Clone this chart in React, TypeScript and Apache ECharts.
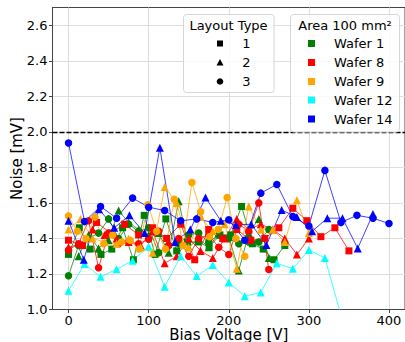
import React, { useEffect, useRef } from "react";
import * as echarts from "echarts";

// ---- data ----
const xTicks = [0, 100, 200, 300, 400];
const yTicks = [1.0, 1.2, 1.4, 1.6, 1.8, 2.0, 2.2, 2.4, 2.6];
const thresholdNoise = 2.0;

const layoutTypes = ["1", "2", "3"];
const wafers = ["Wafer 1", "Wafer 8", "Wafer 9", "Wafer 12", "Wafer 14"];
const waferColors = ["#008000", "#ff0000", "#ffa500", "#00ffff", "#0000ff"];

// Wafer 1
const w1L1x = [0, 13.5, 27, 40.5, 54, 67.5, 81, 94.5, 108, 121.5, 135, 148.5, 162, 175.5, 189, 202.5, 216, 229.5, 243, 256.5, 270];
const w1L1y = [1.31, 1.46, 1.34, 1.31, 1.34, 1.46, 1.28, 1.53, 1.31, 1.51, 1.33, 1.38, 1.38, 1.35, 1.42, 1.42, 1.58, 1.37, 1.34, 1.28, 1.36];
const w1L2x = [12.5, 25, 37.5, 50, 62.5, 75, 87.5, 100, 112.5, 125, 137.5, 150, 162.5, 175, 187.5, 200, 212.5, 225, 237.5, 250];
const w1L2y = [1.30, 1.42, 1.345, 1.39, 1.557, 1.49, 1.45, 1.42, 1.43, 1.32, 1.61, 1.35, 1.40, 1.35, 1.43, 1.41, 1.22, 1.43, 1.51, 1.29];
const w1L3x = [0, 12.5, 25, 37.5, 50, 62.5, 75, 87.5, 100, 112.5, 125, 137.5, 150, 162.5, 175, 187.5, 200, 212.5, 225, 237.5, 250];
const w1L3y = [1.19, 1.36, 1.40, 1.43, 1.51, 1.40, 1.48, 1.44, 1.46, 1.32, 1.36, 1.37, 1.42, 1.43, 1.38, 1.42, 1.40, 1.37, 1.38, 1.38, 1.45];

// Wafer 8
const w8L1x = [0, 17.5, 35, 52.5, 70, 87.5, 105, 122.5, 140, 157.5, 175, 192.5, 210, 227.5, 245, 262.5, 280, 297.5, 315, 332.5, 350];
const w8L1y = [1.39, 1.36, 1.49, 1.43, 1.48, 1.42, 1.46, 1.40, 1.48, 1.28, 1.45, 1.40, 1.45, 1.39, 1.40, 1.46, 1.57, 1.50, 1.41, 1.46, 1.33];
const w8L2x = [0, 15, 30, 45, 60, 75, 90, 105, 120, 135, 150, 165, 180, 195, 210, 225, 240, 255, 270, 285, 300];
const w8L2y = [1.35, 1.37, 1.45, 1.42, 1.40, 1.38, 1.36, 1.44, 1.26, 1.30, 1.40, 1.33, 1.29, 1.40, 1.51, 1.45, 1.48, 1.45, 1.40, 1.31, 1.40];
const w8L3x = [0, 12.5, 25, 37.5, 50, 62.5, 75, 87.5, 100, 112.5, 125, 137.5, 150, 162.5, 175, 187.5, 200, 212.5, 225, 237.5, 250];
const w8L3y = [1.335, 1.37, 1.50, 1.235, 1.43, 1.37, 1.38, 1.37, 1.395, 1.44, 1.36, 1.40, 1.30, 1.40, 1.42, 1.35, 1.31, 1.48, 1.44, 1.60, 1.225];

// Wafer 9
const w9L2x = [0, 15, 30, 45, 60, 75, 90, 105, 120, 135, 150, 165, 180, 195, 210, 225, 240, 255, 270, 285, 300];
const w9L2y = [1.45, 1.51, 1.40, 1.38, 1.37, 1.40, 1.35, 1.32, 1.69, 1.60, 1.35, 1.52, 1.44, 1.48, 1.23, 1.58, 1.45, 1.45, 1.38, 1.615, 1.43];
const w9L3x = [0, 11, 22, 33, 44, 55, 66, 77, 88, 99, 110, 121, 132, 143, 154, 165, 176, 187, 198, 209, 220];
const w9L3y = [1.527, 1.44, 1.40, 1.52, 1.37, 1.42, 1.38, 1.39, 1.34, 1.59, 1.44, 1.34, 1.62, 1.36, 1.715, 1.55, 1.41, 1.45, 1.63, 1.40, 1.30];

// Wafer 12
const w12L2x = [0, 20, 40, 60, 80, 100, 120, 140, 160, 180, 200, 220, 240, 260, 280, 300, 320, 340];
const w12L2y = [1.105, 1.256, 1.184, 1.226, 1.275, 1.354, 1.128, 1.30, 1.188, 1.25, 1.152, 1.075, 1.096, 1.26, 1.23, 1.335, 1.29, 0.97];

// Wafer 14
const w14L2x = [0, 19, 38, 57, 76, 95, 114, 133, 152, 171, 190, 209, 228, 247, 266, 285, 304, 323, 342, 361, 380];
const w14L2y = [1.50, 1.28, 1.565, 1.46, 1.53, 1.43, 1.91, 1.38, 1.45, 1.63, 1.50, 1.476, 1.48, 1.363, 1.56, 1.52, 1.44, 1.514, 1.514, 1.344, 1.538];
const w14L3x = [0, 20, 40, 60, 80, 100, 120, 140, 160, 180, 200, 220, 240, 260, 280, 300, 320, 340, 360, 380, 400];
const w14L3y = [1.937, 1.495, 1.58, 1.514, 1.627, 1.576, 1.557, 1.499, 1.51, 1.49, 1.505, 1.39, 1.655, 1.704, 1.523, 1.47, 1.783, 1.49, 1.53, 1.514, 1.484];

const FONT = "DejaVu Sans";
const symbolFor = ["rect", "triangle", "circle"];
const sizeFor = [7, 8, 7.5];

function mk(wi: number, li: number, xs: number[], ys: number[]) {
  const color = waferColors[wi];
  return {
    type: "line",
    name: wafers[wi] + " L" + layoutTypes[li],
    data: xs.map((x, i) => [x, ys[i]]),
    symbol: symbolFor[li],
    symbolSize: sizeFor[li],
    showAllSymbol: true,
    clip: true,
    itemStyle: { color, opacity: 1 },
    lineStyle: { color, width: 1, opacity: 0.75 },
    emphasis: { disabled: true },
    silent: true,
  };
}

export default function App() {
  const ref = useRef<HTMLDivElement>(null);
  useEffect(() => {
    if (!ref.current) return;
    const chart = echarts.init(ref.current, undefined, { renderer: "svg" });

    const series: any[] = [
      mk(0, 0, w1L1x, w1L1y),
      mk(0, 1, w1L2x, w1L2y),
      mk(0, 2, w1L3x, w1L3y),
      mk(1, 0, w8L1x, w8L1y),
      mk(1, 1, w8L2x, w8L2y),
      mk(1, 2, w8L3x, w8L3y),
      mk(2, 1, w9L2x, w9L2y),
      mk(2, 2, w9L3x, w9L3y),
      mk(3, 1, w12L2x, w12L2y),
      mk(4, 1, w14L2x, w14L2y),
      mk(4, 2, w14L3x, w14L3y),
    ];
    series[0].markLine = {
      silent: true,
      symbol: ["none", "none"],
      label: { show: false },
      lineStyle: { color: "#000", type: [5, 2], width: 1.3, opacity: 1 },
      data: [{ yAxis: thresholdNoise }],
      animation: false,
    };

    const graphics: any[] = [];
    // Layout type legend box
    graphics.push({
      type: "rect", z: 100,
      shape: { x: 183.5, y: 14.5, width: 90.5, height: 78, r: 3 },
      style: { fill: "rgba(255,255,255,0.8)", stroke: "#d6d6d6", lineWidth: 1 },
    });
    graphics.push({
      type: "text", z: 101, x: 228.5, y: 25,
      style: { text: "Layout Type", fontSize: 13, fontFamily: FONT, fill: "#000", align: "center", verticalAlign: "middle" },
    });
    const rowY = [43.5, 62.5, 81.5, 100, 119];
    graphics.push({ type: "rect", z: 101, shape: { x: 217, y: rowY[0] - 3, width: 6, height: 6 }, style: { fill: "#000" } });
    graphics.push({ type: "polygon", z: 101, shape: { points: [[220, rowY[1] - 3.5], [223.5, rowY[1] + 3], [216.5, rowY[1] + 3]] }, style: { fill: "#000" } });
    graphics.push({ type: "circle", z: 101, shape: { cx: 220, cy: rowY[2], r: 3.3 }, style: { fill: "#000" } });
    layoutTypes.forEach((t, i) => {
      graphics.push({
        type: "text", z: 101, x: 246.5, y: rowY[i],
        style: { text: t, fontSize: 13, fontFamily: FONT, fill: "#000", align: "center", verticalAlign: "middle" },
      });
    });
    // Area legend box
    graphics.push({
      type: "rect", z: 100,
      shape: { x: 290.5, y: 14.5, width: 109, height: 117.5, r: 3 },
      style: { fill: "rgba(255,255,255,0.8)", stroke: "#d6d6d6", lineWidth: 1 },
    });
    graphics.push({
      type: "text", z: 101, x: 345, y: 25,
      style: { text: "Area 100 mm²", fontSize: 13, fontFamily: FONT, fill: "#000", align: "center", verticalAlign: "middle" },
    });
    wafers.forEach((w, i) => {
      graphics.push({ type: "rect", z: 101, shape: { x: 308, y: rowY[i] - 3.5, width: 7, height: 7 }, style: { fill: waferColors[i] } });
      graphics.push({
        type: "text", z: 101, x: 334, y: rowY[i],
        style: { text: w, fontSize: 13, fontFamily: FONT, fill: "#000", align: "left", verticalAlign: "middle" },
      });
    });

    chart.setOption({
      animation: false,
      backgroundColor: "#fff",
      textStyle: { fontFamily: FONT },
      grid: {
        left: 52.5, top: 7.5, right: 0, bottom: 32.5,
        containLabel: false,
        outerBoundsMode: "none",
        show: true, borderColor: "#444", borderWidth: 1, backgroundColor: "transparent",
      },
      xAxis: {
        type: "value",
        min: -20, max: 420,
        name: "Bias Voltage [V]",
        nameLocation: "middle",
        nameGap: 17.5,
        nameMoveOverlap: false,
        nameTextStyle: { fontSize: 15, lineHeight: 15, color: "#000", fontFamily: FONT },
        axisLine: { show: true, onZero: false, lineStyle: { color: "#444", width: 1 } },
        axisTick: { show: true, length: 3.5, customValues: xTicks, lineStyle: { color: "#444" } },
        axisLabel: { customValues: xTicks, fontSize: 13, lineHeight: 13, color: "#000", margin: 4, fontFamily: FONT },
        splitLine: { show: true, lineStyle: { color: "#dedede", width: 1 } },
      },
      yAxis: {
        type: "value",
        min: 1.0, max: 2.7,
        name: "Noise [mV]",
        nameLocation: "middle",
        nameGap: 28.5,
        nameMoveOverlap: false,
        nameTextStyle: { fontSize: 15, color: "#000", fontFamily: FONT },
        axisLine: { show: true, onZero: false, lineStyle: { color: "#444", width: 1 } },
        axisTick: { show: true, length: 3.5, customValues: yTicks, lineStyle: { color: "#444" } },
        axisLabel: {
          customValues: yTicks, fontSize: 13, color: "#000", margin: 5, fontFamily: FONT,
          formatter: (v: number) => v.toFixed(1),
        },
        splitLine: { show: true, lineStyle: { color: "#dedede", width: 1 } },
      },
      series,
      graphic: { elements: graphics },
    });
    return () => chart.dispose();
  }, []);
  return (
    <div
      ref={ref}
      style={{ position: "absolute", left: 0, top: 0, width: 405, height: 342, background: "#fff" }}
    />
  );
}
